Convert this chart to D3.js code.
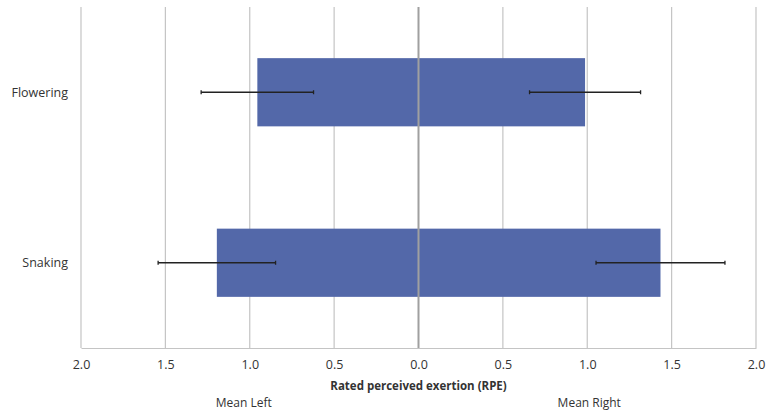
<!DOCTYPE html>
<html><head><meta charset="utf-8">
<script src="https://cdn.jsdelivr.net/npm/d3@7"></script>
<style>body{margin:0;background:#fff}svg{display:block}text{font-family:"Open Sans","Liberation Sans",sans-serif;fill:#333}</style>
</head><body><svg id="c" width="768" height="417"></svg>
<script>
const categories = ["Flowering", "Snaking"];
const meanLeft = [0.955, 1.195];
const meanRight = [0.987, 1.434];
const errLeft = [0.333, 0.348];
const errRight = [0.329, 0.382];
const tickValues = [-2, -1.5, -1, -0.5, 0, 0.5, 1, 1.5, 2];

const svg = d3.select("#c");
const m = {l: 81, r: 12, t: 7, b: 69};
const W = 768, H = 417;
const x = d3.scaleLinear().domain([-2, 2]).range([m.l, W - m.r]);
const y = d3.scaleBand().domain(categories).range([m.t, H - m.b]).paddingInner(0.6).paddingOuter(0.3);

// gridlines
svg.append("g").selectAll("line").data(tickValues.filter(v => v !== 0)).join("line")
  .attr("x1", d => x(d)).attr("x2", d => x(d))
  .attr("y1", m.t).attr("y2", H - m.b)
  .attr("stroke", "#c4c4c4").attr("stroke-width", 1.2);

// bars
const bars = svg.append("g");
categories.forEach((c, i) => {
  bars.append("rect").attr("x", x(-meanLeft[i])).attr("y", y(c))
    .attr("width", x(0) - x(-meanLeft[i])).attr("height", y.bandwidth()).attr("fill", "#5368a9");
  bars.append("rect").attr("x", x(0)).attr("y", y(c))
    .attr("width", x(meanRight[i]) - x(0)).attr("height", y.bandwidth()).attr("fill", "#5368a9");
});

// zero line
svg.append("line").attr("x1", x(0)).attr("x2", x(0)).attr("y1", m.t).attr("y2", H - m.b)
  .attr("stroke", "#a0a0a0").attr("stroke-width", 2);

// error bars
const eb = svg.append("g").attr("stroke", "#222").attr("stroke-width", 1.3);
categories.forEach((c, i) => {
  const cy = y(c) + y.bandwidth() / 2;
  const segs = [[-meanLeft[i] - errLeft[i], -meanLeft[i] + errLeft[i]], [meanRight[i] - errRight[i], meanRight[i] + errRight[i]]];
  segs.forEach(([a, b]) => {
    eb.append("line").attr("x1", x(a)).attr("x2", x(b)).attr("y1", cy).attr("y2", cy);
    [a, b].forEach(v => eb.append("line").attr("x1", x(v)).attr("x2", x(v)).attr("y1", cy - 2).attr("y2", cy + 2));
  });
});

// x axis
const ax = svg.append("g").attr("transform", `translate(0,${H - m.b})`)
  .call(d3.axisBottom(x).tickValues(tickValues).tickSize(0).tickPadding(12).tickFormat(d => Math.abs(d).toFixed(1)));
ax.select(".domain").attr("stroke", "#c4c4c4").attr("stroke-width", 1.2);
ax.selectAll("text").attr("font-size", 12.5).attr("fill", "#333").attr("font-family", '"Open Sans","Liberation Sans",sans-serif');

// category labels
svg.append("g").selectAll("text").data(categories).join("text")
  .attr("x", 68).attr("y", d => y(d) + y.bandwidth() / 2).attr("dy", "0.35em")
  .attr("text-anchor", "end").attr("font-size", 12.5).text(d => d);

svg.append("text").attr("x", x(0)).attr("y", 390).attr("text-anchor", "middle")
  .attr("font-size", 11.5).attr("font-weight", "bold").text("Rated perceived exertion (RPE)");
svg.append("text").attr("x", x(-1) - 6).attr("y", 407).attr("text-anchor", "middle")
  .attr("font-size", 12).text("Mean Left");
svg.append("text").attr("x", x(1) + 2).attr("y", 407).attr("text-anchor", "middle")
  .attr("font-size", 12).text("Mean Right");
</script></body></html>
